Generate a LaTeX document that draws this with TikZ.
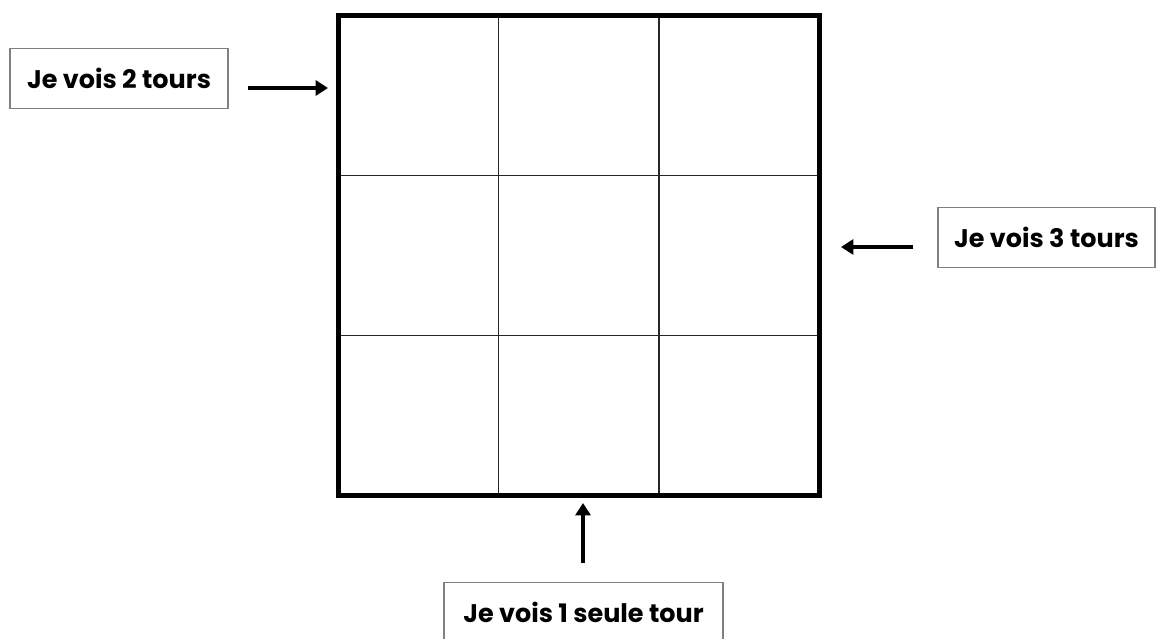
\documentclass[tikz,border=0pt]{standalone}
\usepackage{fontspec}
\setmainfont{Poppins}
\usetikzlibrary{arrows.meta,positioning}
\tikzset{
  board/.style={draw=black,line width=2.8pt,minimum width=9.63cm,minimum height=9.62cm,inner sep=0pt},
  cellline/.style={draw=black!85,line width=0.8pt},
  tag/.style={draw=black!50,line width=1.1pt,fill=white,minimum height=1.2cm,inner sep=0pt,
    font=\fontsize{14.5}{17}\selectfont\bfseries,text=black},
  pointer/.style={-{Triangle[length=7pt,width=8.5pt]},line width=2.2pt},
}
\begin{document}
\begin{tikzpicture}[x=0.02cm,y=-0.02cm]
  \useasboundingbox (0,0) rectangle (1157,639);
  % grille 3x3
  \foreach \k in {1,2} {
    \draw[cellline] (338+\k*160.5,15) -- (338+\k*160.5,496);
    \draw[cellline] (338,15+\k*160.3) -- (819.5,15+\k*160.3);
  }
  \node[board] (grid) at (578.75,255.5) {};
  % les points de vue
  \node[tag,minimum width=4.36cm] (left) at (119,78.5) {Je vois 2 tours};
  \node[tag,minimum width=4.34cm] (right) at (1046.5,237.5) {Je vois 3 tours};
  \node[tag,minimum width=5.58cm] (below) at (583.5,612.5) {Je vois 1 seule tour};
  \coordinate (leftfrom) at (248,88);
  \coordinate (leftto) at (328,88);
  \coordinate (rightfrom) at (913,247);
  \coordinate (rightto) at (841,247);
  \coordinate (belowfrom) at (583,563);
  \coordinate (belowto) at (583,503);
  \draw[pointer] (leftfrom) -- (leftto);
  \draw[pointer] (rightfrom) -- (rightto);
  \draw[pointer] (belowfrom) -- (belowto);
\end{tikzpicture}
\end{document}
